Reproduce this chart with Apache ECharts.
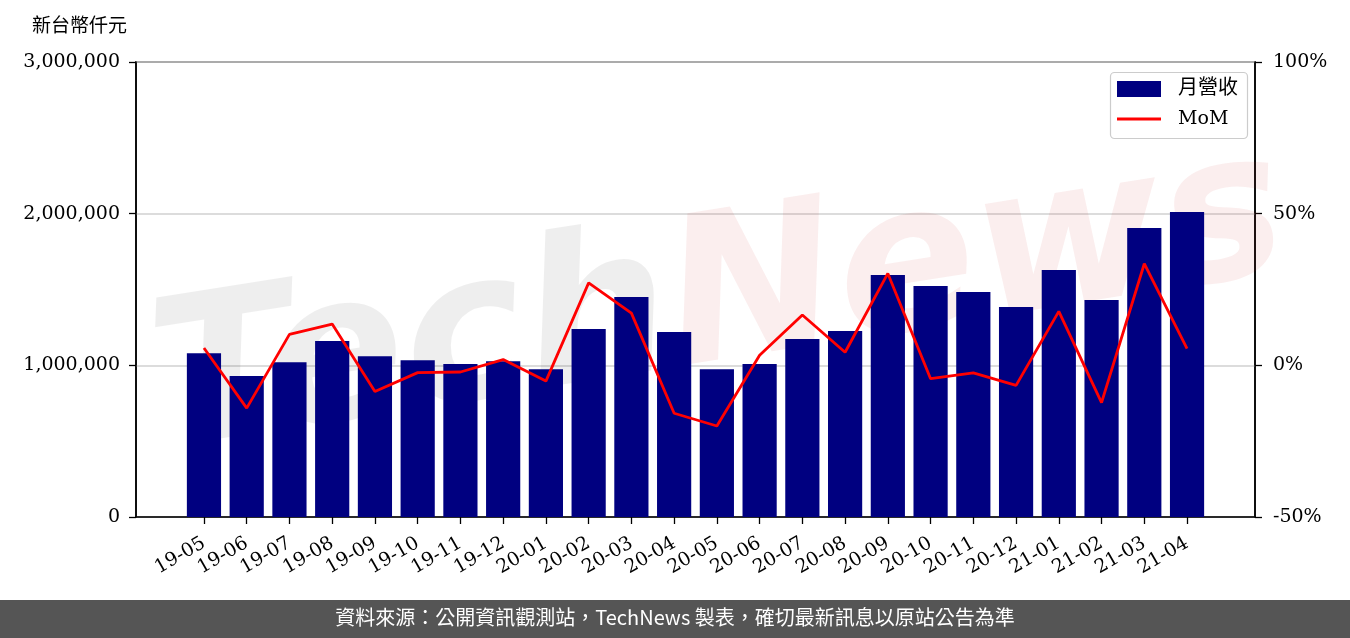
<!DOCTYPE html>
<html>
<head>
<meta charset="utf-8">
<script src="https://cdn.jsdelivr.net/npm/echarts@6/dist/echarts.min.js"></script>
<style>
html,body{margin:0;padding:0;background:#fff;}
#chart{width:1350px;height:638px;}
</style>
</head>
<body>
<div id="chart"></div>
<script>
var categories = ['19-05','19-06','19-07','19-08','19-09','19-10','19-11','19-12','20-01','20-02','20-03','20-04','20-05','20-06','20-07','20-08','20-09','20-10','20-11','20-12','21-01','21-02','21-03','21-04'];
var revenue = [1080000, 929000, 1021000, 1160000, 1060000, 1034000, 1008000, 1027000, 975000, 1239000, 1450000, 1219000, 975000, 1008000, 1173000, 1226000, 1595000, 1523000, 1483000, 1384000, 1628000, 1430000, 1905000, 2011000];
var mom = [5.7, -14.1, 10.2, 13.6, -8.6, -2.4, -2.2, 1.9, -5.2, 27.2, 17.2, -15.8, -20.0, 3.3, 16.6, 4.3, 30.3, -4.4, -2.5, -6.6, 17.8, -12.3, 33.5, 5.5];
var leftTicks = [0, 1000000, 2000000, 3000000];
var rightTicks = [-50, 0, 50, 100];

var serif = '"DejaVu Serif", "Noto Sans CJK TC", serif';
var cjk = '"Noto Sans CJK TC", sans-serif';

var chart = echarts.init(document.getElementById('chart'), null, {renderer: 'canvas'});

// frame spans x-range -1.59 .. 24.59 (category units) over the plot width
var plotLeft = 136, plotRight = 95, plotW = 1350 - plotLeft - plotRight;
var unit = plotW / (24.59 + 1.59);
var bandLeft = plotLeft + (1.59 - 0.5) * unit;
var bandW = categories.length * unit;

var lMin = leftTicks[0], lMax = leftTicks[leftTicks.length - 1];
var rMin = rightTicks[0], rMax = rightTicks[rightTicks.length - 1];

chart.setOption({
  animation: false,
  backgroundColor: '#ffffff',
  grid: [{
    left: plotLeft, right: plotRight, top: 62, bottom: 121,
    show: true, borderColor: '#000', borderWidth: 1.5, backgroundColor: 'transparent'
  }, {
    left: bandLeft, width: bandW, top: 62, bottom: 121
  }],
  legend: [{
    left: 1117, top: 77, padding: 0,
    itemWidth: 44, itemHeight: 16, icon: 'rect',
    textStyle: {fontFamily: serif, fontSize: 20, lineHeight: 24, color: '#000', padding: [0, 0, 0, 12]},
    data: ['月營收']
  }, {
    left: 1117, top: 107, padding: 0,
    itemWidth: 44, itemHeight: 3, icon: 'rect',
    textStyle: {fontFamily: serif, fontSize: 19, lineHeight: 24, color: '#000', padding: [0, 0, 0, 12]},
    data: ['MoM']
  }],
  xAxis: [{
    gridIndex: 0, type: 'value', min: 0, max: 1,
    splitLine: {show: false}, axisTick: {show: false}, axisLabel: {show: false},
    axisLine: {show: true, onZero: false, lineStyle: {color: '#000', width: 1.5}}
  }, {
    gridIndex: 1, type: 'category', data: categories, boundaryGap: true,
    axisLine: {show: false, onZero: false},
    splitLine: {show: false},
    axisTick: {show: true, alignWithLabel: true, interval: 0, length: 7, lineStyle: {color: '#000', width: 1.3}},
    axisLabel: {
      interval: 0, rotate: 30, margin: 25,
      fontFamily: serif, fontSize: 19, color: '#000'
    }
  }],
  yAxis: [{
    gridIndex: 0, type: 'value', min: lMin, max: lMax, interval: 1000000,
    axisLine: {show: true, onZero: false, lineStyle: {color: '#000', width: 1.5}},
    axisTick: {show: true, length: 7, lineStyle: {color: '#000', width: 1.3}},
    axisLabel: {
      fontFamily: serif, fontSize: 19, color: '#000', margin: 16,
      formatter: function (v) { return v.toLocaleString('en-US'); }
    },
    splitLine: {show: true, lineStyle: {color: '#d0d0d0', width: 1.5}}
  }, {
    gridIndex: 0, type: 'value', min: rMin, max: rMax, interval: 50,
    position: 'right',
    axisLine: {show: true, onZero: false, lineStyle: {color: '#000', width: 1.5}},
    axisTick: {show: true, length: 7, lineStyle: {color: '#000', width: 1.3}},
    axisLabel: {
      fontFamily: serif, fontSize: 19, color: '#000', margin: 18,
      formatter: function (v) { return v + '%'; }
    },
    splitLine: {show: false}
  }, {
    gridIndex: 1, type: 'value', min: lMin, max: lMax, show: false
  }, {
    gridIndex: 1, type: 'value', min: rMin, max: rMax, show: false
  }],
  series: [{
    name: '月營收', type: 'bar', xAxisIndex: 1, yAxisIndex: 2, data: revenue,
    barWidth: '80%', itemStyle: {color: '#000080'}, z: 2
  }, {
    name: 'MoM', type: 'line', xAxisIndex: 1, yAxisIndex: 3, data: mom,
    symbol: 'none', lineStyle: {color: '#ff0000', width: 2.8}, itemStyle: {color: '#ff0000'}, z: 3
  }],
  graphic: [{
    type: 'text', left: 140, top: 115, rotation: 0.157, z: 1, silent: true,
    style: {
      text: '{a|Tech}{b|News}',
      rich: {
        a: {fontSize: 205, fontFamily: '"DejaVu Sans"', fontWeight: 'bold', fontStyle: 'italic', fill: 'rgba(0,0,0,0.065)'},
        b: {fontSize: 205, fontFamily: '"DejaVu Sans"', fontWeight: 'bold', fontStyle: 'italic', fill: 'rgba(210,40,40,0.08)'}
      }
    }
  }, {
    type: 'rect', z: 3, silent: true,
    shape: {x: 1110.5, y: 72.5, width: 137, height: 66, r: 4},
    style: {fill: 'rgba(255,255,255,0.8)', stroke: '#cccccc', lineWidth: 1.2}
  }, {
    type: 'text', left: 32, top: 15,
    style: {text: '新台幣仟元', fill: '#000', fontFamily: cjk, fontSize: 19}
  }, {
    type: 'rect', left: 0, top: 600, z: 20,
    shape: {width: 1350, height: 38},
    style: {fill: '#555555'}
  }, {
    type: 'text', left: 'center', top: 607, z: 21,
    style: {text: '資料來源：公開資訊觀測站，TechNews 製表，確切最新訊息以原站公告為準', fill: '#ffffff', fontFamily: cjk, fontSize: 20}
  }]
});
</script>
</body>
</html>
